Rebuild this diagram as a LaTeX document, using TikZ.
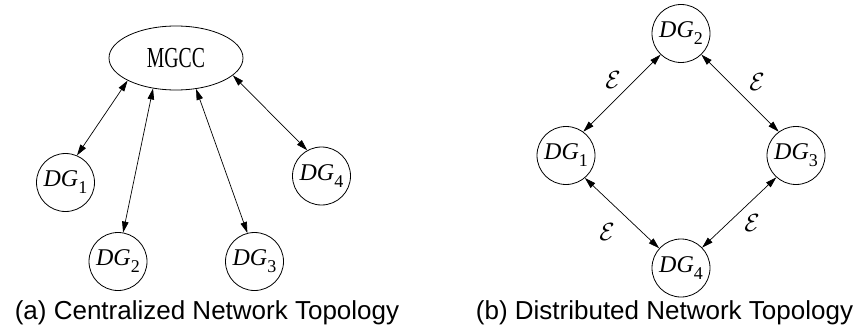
\documentclass[tikz,border=0pt]{standalone}
\usepackage{fontspec}
\setmainfont{Liberation Serif}
\newfontfamily\capfont{Liberation Sans}
\usetikzlibrary{arrows.meta,shapes.geometric}
\newcommand{\dgl}[1]{{\fontsize{24}{24}\selectfont\itshape DG}\raisebox{-7pt}{\fontsize{18}{18}\selectfont #1}}
\begin{document}
\begin{tikzpicture}[x=1pt,y=-1pt,
  dgnode/.style={circle,draw,line width=0.8pt,minimum size=58pt,inner sep=0pt},
  ctrl/.style={ellipse,draw,line width=0.8pt,minimum width=134pt,minimum height=64pt,inner sep=0pt},
  link/.style={line width=0.7pt,{Triangle[length=11pt,width=6.5pt]}-{Triangle[length=11pt,width=6.5pt]}},
  captext/.style={anchor=base,font=\capfont\fontsize{26}{26}\selectfont,inner sep=0pt},
  epslabel/.style={font=\fontsize{26}{26}\selectfont,inner sep=0pt}]
\useasboundingbox (0,0) rectangle (857,329);
% (a) centralized
\node[ctrl] (mgcc) at (176,58) {\scalebox{0.68}[1]{\fontsize{29}{29}\selectfont MGCC}};
\node[dgnode] (a1) at (65.5,182.5) {\dgl{1}};
\node[dgnode] (a2) at (118,261.5) {\dgl{2}};
\node[dgnode] (a3) at (254.5,261.5) {\dgl{3}};
\node[dgnode] (a4) at (321.5,176) {\dgl{4}};
\draw[link] (mgcc.205.6) -- (a1.67);
\draw[link] (mgcc.233.7) -- (a2.80.5);
\draw[link] (mgcc.303.7) -- (a3.104);
\draw[link] (mgcc.343.4) -- (a4.119);
\node[captext] (capa) at (207,319) {(a) Centralized Network Topology};
% (b) distributed
\node[dgnode] (b1) at (566,155.5) {\dgl{1}};
\node[dgnode] (b2) at (681,33.5) {\dgl{2}};
\node[dgnode] (b3) at (796,155.5) {\dgl{3}};
\node[dgnode] (b4) at (681,268) {\dgl{4}};
\draw[link] (b1.54) -- (b2.226);
\draw[link] (b2.314) -- (b3.126);
\draw[link] (b1.310) -- (b4.138);
\draw[link] (b3.228) -- (b4.44);
\node[epslabel] (e1) at (613,80) {$\mathcal{E}$};
\node[epslabel] (e2) at (757,82) {$\mathcal{E}$};
\node[epslabel] (e3) at (607,232) {$\mathcal{E}$};
\node[epslabel] (e4) at (752,223) {$\mathcal{E}$};
\node[captext] (capb) at (664.5,319) {(b) Distributed Network Topology};
\end{tikzpicture}
\end{document}
